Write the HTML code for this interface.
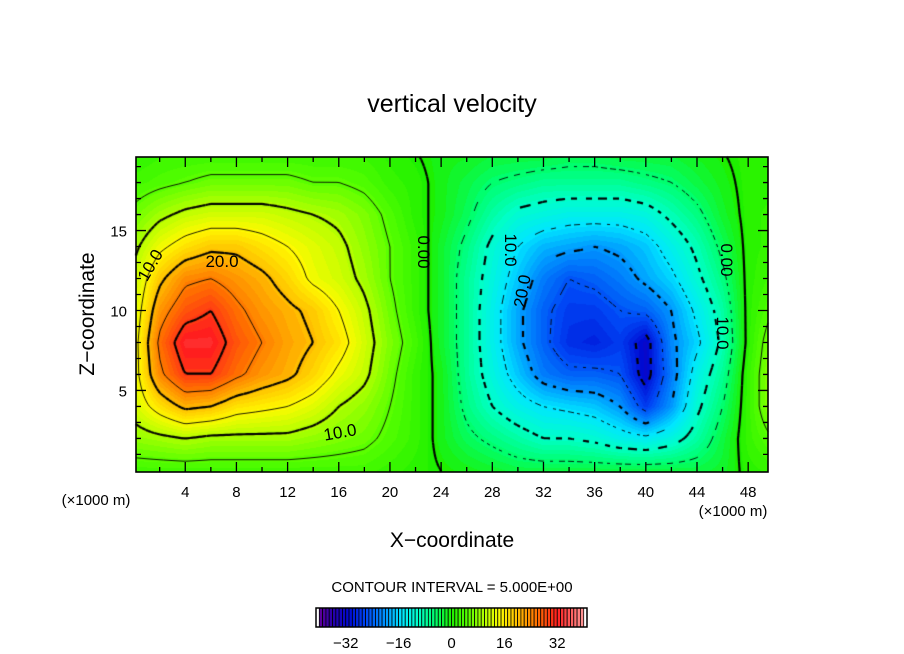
<!DOCTYPE html>
<html><head><meta charset="utf-8"><style>
body{margin:0;background:#fff;width:904px;height:654px;position:relative;overflow:hidden;font-family:"Liberation Sans",sans-serif}
canvas,svg{position:absolute;left:0;top:0}
</style></head><body>
<canvas id="cv" width="904" height="654"></canvas>
<svg id="sv" width="904" height="654"></svg>
<script>
// data grid: x (x1000 m) columns, z (x1000 m) rows, vertical velocity values
const xs=[0,2,4,6,8,10,12,14,16,18,20,22,24,26,28,30,32,34,36,38,40,42,44,46,48,50];
const zs=[0,2,4,6,8,10,12,14,16,18,20];
const row0=[3,3,3,3,3,3,3,3,3,3,2,1,0,-1,-2,-3,-3,-3,-3,-3,-3,-3,-3,-2,1,2];
const row2=[8,9,10,9,9,9,9,8,7,6,4,2,-1,-4,-6,-8,-10,-10,-11,-13,-14,-12,-8,-3,2,5];
const row4=[12,17,21,20,17,16,15,13,10,8,5,2,-1,-6,-10,-13,-15,-16,-17,-20,-27,-20,-11,-5,2,9];
const row6=[13,24,30,30,26,23,21,18,14,11,6,2,-1,-7,-12,-17,-22,-24,-24,-25,-32,-22,-13,-7,2,9];
const row8=[13,26,33,33,28,25,22,20,17,12,7,3,-2,-7,-13,-19,-24,-28,-29,-27,-32,-21,-16,-9,1,8];
const row10=[12,23,28,30,26,23,21,19,15,11,6,2,-2,-7,-13,-19,-24,-27,-27,-25,-24,-20,-14,-8,1,5];
const row12=[11,19,24,25,23,21,18,14,12,9,5,2,-2,-7,-12,-17,-22,-25,-24,-22,-19,-16,-11,-6,1,3];
const row14=[9,14,17,19,19,17,15,13,11,8,5,2,-2,-6,-11,-15,-18,-19,-20,-19,-17,-13,-9,-4,1,2];
const row16=[6,9,11,12,12,12,11,10,9,7,4,1,-1,-4,-8,-11,-12,-13,-13,-13,-12,-9,-6,-2,1,2];
const row18=[3,4,5,6,6,6,6,5,5,4,2,1,-1,-3,-5,-6,-7,-7,-7,-7,-6,-5,-3,-1,1,1];
const row20=[1,2,2,2,2,2,2,2,2,2,1,0,-1,-1,-2,-2,-2,-3,-3,-2,-2,-2,-1,0,1,1];
const xTicks=[4,8,12,16,20,24,28,32,36,40,44,48];
const zTicks=[5,10,15];
const cbTicks=[-32,-16,0,16,32];
const levels=[-35,-30,-25,-20,-15,-10,-5,0,5,10,15,20,25,30,35];

const grid=[row0,row2,row4,row6,row8,row10,row12,row14,row16,row18,row20];
const L=136,R=768,T=157,B=472, XMIN=0.15,XMAX=49.55,ZMIN=-0.1,ZMAX=19.6;
const sx=x=>L+(x-XMIN)/(XMAX-XMIN)*(R-L);
const sz=z=>B-(z-ZMIN)/(ZMAX-ZMIN)*(B-T);
const ix=p=>XMIN+(p-L)/(R-L)*(XMAX-XMIN);
const iz=p=>ZMIN+(B-p)/(B-T)*(ZMAX-ZMIN);
function val(x,z){
  const dx=xs[1]-xs[0],dz=zs[1]-zs[0];
  let fx=Math.max(0,Math.min(xs.length-1.0001,(x-xs[0])/dx));
  let fz=Math.max(0,Math.min(zs.length-1.0001,(z-zs[0])/dz));
  const i=Math.floor(fx),j=Math.floor(fz),u=fx-i,v=fz-j;
  const a=grid[j][i],b=grid[j][i+1],c=grid[j+1][i],d=grid[j+1][i+1];
  return a*(1-u)*(1-v)+b*u*(1-v)+c*(1-u)*v+d*u*v;
}
const stops=[[-41,[110,0,150]],[-36,[40,0,170]],[-31,[0,10,210]],[-26,[0,70,245]],[-20,[0,150,255]],[-15,[0,230,255]],[-10,[0,255,200]],[-5,[0,255,110]],[0,[30,240,0]],[5,[90,255,0]],[10,[180,255,0]],[15,[255,250,0]],[20,[255,190,0]],[26,[255,110,0]],[32,[255,30,30]],[38,[255,120,120]],[41,[255,170,170]]];
function col(v){
  if(v<=stops[0][0])return stops[0][1];
  for(let k=1;k<stops.length;k++){if(v<=stops[k][0]){const t=(v-stops[k-1][0])/(stops[k][0]-stops[k-1][0]);const a=stops[k-1][1],b=stops[k][1];return [0,1,2].map(m=>Math.round(a[m]+(b[m]-a[m])*t));}}
  return stops[stops.length-1][1];
}
const cv=document.getElementById('cv'),ctx=cv.getContext('2d');
const img=ctx.createImageData(R-L,B-T);
for(let py=0;py<B-T;py++)for(let px=0;px<R-L;px++){
  const v=Math.round(val(ix(L+px+0.5),iz(T+py+0.5)));const c=col(v);const o=(py*(R-L)+px)*4;
  img.data[o]=c[0];img.data[o+1]=c[1];img.data[o+2]=c[2];img.data[o+3]=255;}
ctx.putImageData(img,L,T);
// marching squares
const st=3;
const nx=Math.ceil((R-L)/st),nz=Math.ceil((B-T)/st);
const F=[];for(let j=0;j<=nz;j++){F[j]=[];for(let i=0;i<=nx;i++)F[j][i]=val(ix(Math.min(R,L+i*st)),iz(Math.min(B,T+j*st)));}
ctx.strokeStyle='#000';
levels.forEach(lv=>{
  ctx.lineWidth=(lv%10===0)?2.2:0.9;
  for(let j=0;j<nz;j++)for(let i=0;i<nx;i++){
    const x0=L+i*st,y0=T+j*st,x1=Math.min(R,x0+st),y1=Math.min(B,y0+st);
    const a=F[j][i],b=F[j][i+1],c=F[j+1][i+1],d=F[j+1][i];
    const pts=[];
    const e=(p,q,P,Q)=>{if((p-lv)*(q-lv)<0){const t=(lv-p)/(q-p);pts.push([P[0]+(Q[0]-P[0])*t,P[1]+(Q[1]-P[1])*t]);}};
    e(a,b,[x0,y0],[x1,y0]);e(b,c,[x1,y0],[x1,y1]);e(c,d,[x1,y1],[x0,y1]);e(d,a,[x0,y1],[x0,y0]);
    for(let k=0;k+1<pts.length;k+=2){
      const mx=(pts[k][0]+pts[k+1][0])/2,my=(pts[k][1]+pts[k+1][1])/2;
      if(lv<0&&Math.floor((mx+my)/(lv%10===0?7:5))%2===1)continue;
      ctx.beginPath();ctx.moveTo(pts[k][0],pts[k][1]);ctx.lineTo(pts[k+1][0],pts[k+1][1]);ctx.stroke();}
  }});
// overlay
const sv=document.getElementById('sv'),NS='http://www.w3.org/2000/svg';
function mk(tag,at,txt){const el=document.createElementNS(NS,tag);for(const k in at)el.setAttribute(k,at[k]);if(txt!==undefined)el.textContent=txt;sv.appendChild(el);return el;}
let el;
el=mk('rect',{x:L,y:T,width:R-L,height:B-T,fill:'none',stroke:'#000','stroke-width':1.6});


for(let x=2;x<=48;x+=2){const len=(x%4===0)?10:5;
  el=mk('path',{d:`M${sx(x)},${B}v${-len}M${sx(x)},${T}v${len}`,stroke:'#000','stroke-width':1.3});
  
  }
for(let z=1;z<=19;z++){const len=(z%5===0)?10:5;
  el=mk('path',{d:`M${L},${sz(z)}h${len}M${R},${sz(z)}h${-len}`,stroke:'#000','stroke-width':1.3});
  
  }
xTicks.forEach(x=>{el=mk('text',{x:sx(x),y:497,'font-size':15,'text-anchor':'middle'},String(x));
  
  });
zTicks.forEach(z=>{el=mk('text',{x:127,y:sz(z)+6,'font-size':15,'text-anchor':'end'},String(z));
  
  });
el=mk('text',{x:452,y:112,'font-size':25,'text-anchor':'middle'},'vertical velocity');


el=mk('text',{x:452,y:547,'font-size':21,'text-anchor':'middle'},'X\u2212coordinate');


el=mk('text',{x:0,y:0,'font-size':21,'text-anchor':'middle',transform:'translate(94,314) rotate(-90)'},'Z\u2212coordinate');


el=mk('text',{x:96,y:505,'font-size':15,'text-anchor':'middle'},'(\u00d71000 m)');


el=mk('text',{x:733,y:516,'font-size':15,'text-anchor':'middle'},'(\u00d71000 m)');


el=mk('text',{x:452,y:592,'font-size':15,'text-anchor':'middle'},'CONTOUR INTERVAL = 5.000E+00');


// contour labels
[[150,265,'10.0',-60],[222,261,'20.0',0],[340,432,'10.0',-10],[424,252,'0.00',90],[511,250,'10.0',90],[522,291,'20.0',-80],[727,260,'0.00',90],[723,333,'10.0',90]].forEach(l=>{
  el=mk('text',{x:0,y:0,'font-size':17,'text-anchor':'middle',transform:`translate(${l[0]},${l[1]}) rotate(${l[3]})`,dy:6},l[2]);
  
  });
// colorbar
const CL=316,CR=587,CT=608,CB=627,VMIN=-41,VMAX=41;
const cbx=v=>CL+(v-VMIN)/(VMAX-VMIN)*(CR-CL);
for(let v=-40;v<40;v++){const c=col(v+0.5);
  el=mk('rect',{x:cbx(v),y:CT,width:cbx(v+1)-cbx(v),height:CB-CT,fill:`rgb(${c})`,stroke:'#000','stroke-width':0.8});
  
  }
el=mk('rect',{x:CL,y:CT,width:CR-CL,height:CB-CT,fill:'none',stroke:'#000','stroke-width':1.5});


cbTicks.forEach(v=>{el=mk('text',{x:cbx(v),y:648,'font-size':15,'text-anchor':'middle'},v<0?'\u2212'+(-v):String(v));
  
  });
</script>
</body></html>
